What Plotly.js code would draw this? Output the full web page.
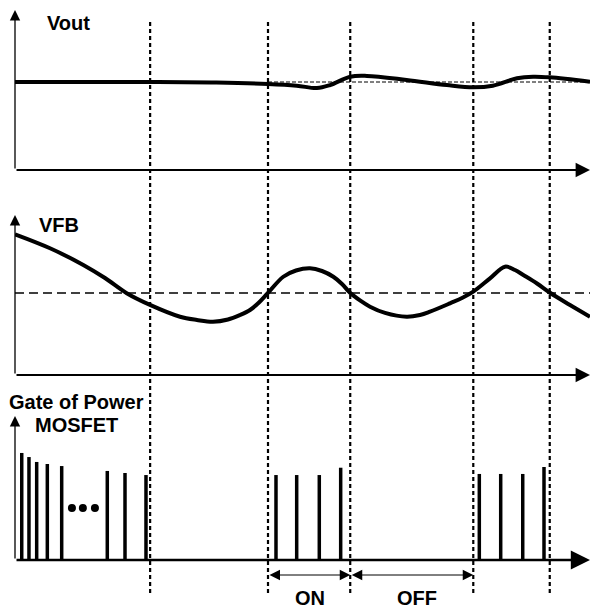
<!DOCTYPE html>
<html>
<head>
<meta charset="utf-8">
<script src="https://cdn.plot.ly/plotly-3.0.1.min.js"></script>
<style>html,body{margin:0;padding:0;background:#fff;}#chart{width:591px;height:612px;}</style>
</head>
<body>
<div id="chart"></div>
<script>
// Time axis (arbitrary units 0..100)
const markerTimes = [23.5, 44, 58.3, 79.7, 93];

// Vout waveform
const voutT = [0, 23.5, 35, 44, 49, 52.5, 54.8, 58.3, 61.2, 68.1, 75.1, 79.7, 83.1, 87.3, 90.1, 93, 100];
const voutV = [5.5, 5.5, 5.47, 5.38, 5.27, 5.12, 5.31, 5.83, 5.88, 5.63, 5.31, 5.17, 5.27, 5.73, 5.83, 5.79, 5.52];
const voutRef = 5.5;
const voutRefStart = 44;

// VFB waveform
const vfbT = [0, 6.09, 11.88, 15.65, 19.43, 23.48, 28.7, 31.65, 34.43, 37.04, 39.13, 40.87, 42.43, 44.0, 46.66, 48.87, 51.3, 53.39, 55.36, 56.87, 58.26, 60.0, 61.74, 64.35, 68.12, 70.43, 72.17, 75.65, 77.74, 79.7, 82.61, 85.22, 86.96, 88.4, 90.78, 93.04, 96.52, 100];
const vfbV = [8.79, 7.92, 6.88, 6.06, 5.11, 4.38, 3.64, 3.44, 3.33, 3.47, 3.75, 4.06, 4.53, 5.13, 6.14, 6.53, 6.67, 6.5, 6.14, 5.69, 5.14, 4.66, 4.27, 3.88, 3.64, 3.75, 3.96, 4.48, 4.81, 5.21, 6.04, 6.77, 6.56, 6.25, 5.72, 5.14, 4.38, 3.64];
const vfbRef = 5.125;

// Gate pulses
const pulseT = [1.17, 2.43, 3.77, 5.62, 8.12, 16.05, 19.13, 22.78, 45.39, 48.99, 52.92, 56.64, 80.75, 84.47, 88.30, 92.0];
const pulseH = [8.92, 8.58, 8.17, 8.0, 7.83, 7.42, 7.25, 7.08, 7.08, 7.08, 7.08, 7.69, 7.17, 7.17, 7.17, 7.75];
const dotT = [9.9, 11.8, 13.9];
const dotV = [4.33, 4.33, 4.33];

// ON / OFF intervals
const intervalNames = ['ON', 'OFF'];
const intervalStart = [44, 58.3];
const intervalEnd = [58.3, 79.7];
const intervalLabelT = [51.3, 69.9];

// Panel titles
const panelTitles = ['Vout', 'VFB', 'Gate of Power', 'MOSFET'];

const FONT = 'Liberation Sans, Arial, sans-serif';

const px = [];
const py = [];
pulseT.forEach((t, i) => { px.push(t, t, null); py.push(0, pulseH[i], null); });

const traces = [
  {x: voutT, y: voutV, xaxis: 'x', yaxis: 'y', mode: 'lines', line: {color: '#000', width: 4, shape: 'spline', smoothing: 1}},
  {x: [voutRefStart, 100], y: [voutRef, voutRef], xaxis: 'x', yaxis: 'y', mode: 'lines', line: {color: '#000', width: 1, dash: '4px,2px'}},
  {x: [0, 100], y: [vfbRef, vfbRef], xaxis: 'x', yaxis: 'y2', mode: 'lines', line: {color: '#000', width: 1.5, dash: '9px,5px'}},
  {x: vfbT, y: vfbV, xaxis: 'x', yaxis: 'y2', mode: 'lines', line: {color: '#000', width: 4, shape: 'spline', smoothing: 1}},
  {x: px, y: py, xaxis: 'x', yaxis: 'y3', mode: 'lines', line: {color: '#000', width: 3.5}},
  {x: dotT, y: dotV, xaxis: 'x', yaxis: 'y3', mode: 'markers', marker: {color: '#000', size: 8}}
];

const shapes = markerTimes.map(t => ({
  type: 'line', xref: 'x', yref: 'paper', x0: t, x1: t, y0: 1 - 593/612, y1: 1 - 22/612,
  line: {color: '#000', width: 2.2, dash: '4px,3px'}
}));

const annotations = [];
const axArrow = (yref, xTip, yTip, xTail, yTail, w) => ({
  xref: 'x', yref: yref, axref: 'x', ayref: yref, x: xTip, y: yTip, ax: xTail, ay: yTail,
  text: '', showarrow: true, arrowhead: 2, arrowsize: 1.6, arrowwidth: w, arrowcolor: '#000', standoff: 0
});
annotations.push(axArrow('y', 100, 0, 0, 0, 1.8));
annotations.push(axArrow('y', 0, 10, 0, 0, 1.3));
annotations.push(axArrow('y2', 100, 0, 0, 0, 1.8));
annotations.push(axArrow('y2', 0, 10, 0, 0, 1.3));
annotations.push(axArrow('y3', 100, 0, 0, 0, 2.4));
annotations.push(axArrow('y3', 0, 12, 0, 0, 1.3));

intervalNames.forEach((n, i) => {
  annotations.push({
    xref: 'x', yref: 'paper', axref: 'x', ayref: 'pixel', x: intervalEnd[i], y: 1 - 575/612, ax: intervalStart[i], ay: 0,
    text: '', showarrow: true, arrowhead: 2, startarrowhead: 2, arrowside: 'end+start', arrowsize: 2.1, startarrowsize: 2.1,
    arrowwidth: 1, arrowcolor: '#000', standoff: 0, startstandoff: 0
  });
  annotations.push({
    xref: 'x', yref: 'paper', x: intervalLabelT[i], y: 1 - 598/612, text: '<b>' + n + '</b>', showarrow: false,
    xanchor: 'center', yanchor: 'middle', font: {family: FONT, size: 20, color: '#000'}
  });
});

const titlePos = [[45, 23], [37, 225], [7, 402], [33, 425]];
panelTitles.forEach((t, i) => {
  annotations.push({
    xref: 'paper', yref: 'paper', x: titlePos[i][0] / 591, y: 1 - titlePos[i][1] / 612,
    text: '<b>' + t + '</b>', showarrow: false, xanchor: 'left', yanchor: 'middle',
    font: {family: FONT, size: 20, color: '#000'}
  });
});

const hidden = {visible: false, fixedrange: true};
const layout = {
  width: 591, height: 612,
  margin: {l: 0, r: 0, t: 0, b: 0},
  paper_bgcolor: '#fff', plot_bgcolor: 'rgba(0,0,0,0)',
  showlegend: false, hovermode: false,
  xaxis: Object.assign({domain: [15/591, 590/591], range: [0, 100], anchor: 'y3'}, hidden),
  yaxis: Object.assign({domain: [1 - 170/612, 1 - 10/612], range: [0, 10], anchor: 'x'}, hidden),
  yaxis2: Object.assign({domain: [1 - 375/612, 1 - 215/612], range: [0, 10], anchor: 'x'}, hidden),
  yaxis3: Object.assign({domain: [1 - 560/612, 1 - 416/612], range: [0, 12], anchor: 'x'}, hidden),
  shapes: shapes,
  annotations: annotations
};

Plotly.newPlot('chart', traces, layout, {staticPlot: true, displayModeBar: false});
</script>
</body>
</html>
